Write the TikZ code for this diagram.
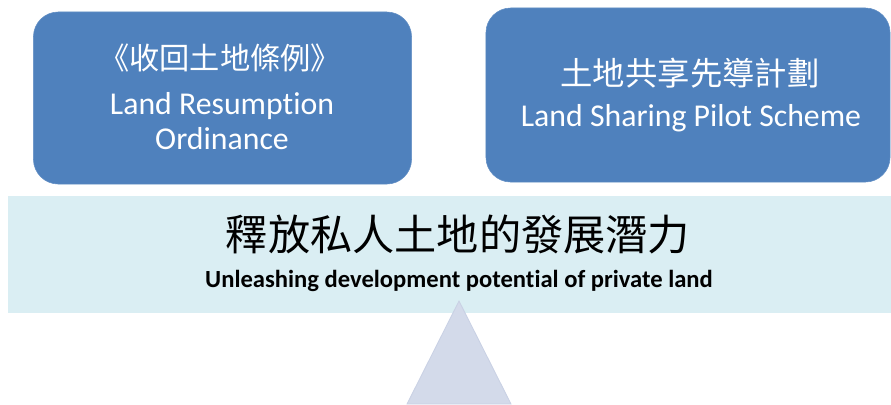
\documentclass[tikz,border=0pt]{standalone}
\usepackage{fontspec}
\setmainfont{Carlito}[Ligatures={NoCommon}]
\newfontfamily\cjk{Noto Sans CJK TC}
\definecolor{boxblue}{RGB}{79,129,189}
\definecolor{barcyan}{RGB}{218,238,243}
\definecolor{pivotgray}{RGB}{211,218,234}
\definecolor{pivotedge}{RGB}{201,209,228}

\begin{document}
\begin{tikzpicture}[
        x=0.025cm, y=-0.025cm,
        policy/.style={rectangle, draw=boxblue!90!white, fill=boxblue, rounded corners=0.62cm, align=center, text=white, inner sep=0pt},
        lever/.style={rectangle, fill=barcyan, inner sep=0pt, align=center},
        label/.style={inner sep=0pt, align=center}
    ]
        \useasboundingbox (0,0) rectangle (891,404);
        % the two schemes on top of the lever
        \node[policy, minimum width=9.45cm, minimum height=4.3cm] (resume) at (222.5,98) {};
        \node[policy, minimum width=10.1cm, minimum height=4.35cm] (sharing) at (688,95) {};
        \node[label, text=white, font=\cjk\fontsize{21.5}{24}\selectfont] (resumezh) at (220,58) {《收回土地條例》};
        \node[label, text=white, font=\fontsize{22.6}{24.5}\selectfont] (resumeen) at (222,121) {Land Resumption\\Ordinance};
        \node[label, text=white, font=\cjk\fontsize{23}{24}\selectfont] (sharingzh) at (690,73) {土地共享先導計劃};
        \node[label, text=white, font=\fontsize{22.6}{24}\selectfont] (sharingen) at (691,118) {Land Sharing Pilot Scheme};
        % lever bar
        \node[lever, minimum width=22.08cm, minimum height=2.93cm] (bar) at (449.5,254.5) {};
        \node[label, font=\cjk\fontsize{30}{32}\selectfont] (goalzh) at (458,234) {釋放私人土地的發展潛力};
        \node[label, font=\bfseries\fontsize{17.5}{19}\selectfont] (goalen) at (459,281) {Unleashing development potential of private land};
        % pivot
        \filldraw[fill=pivotgray, draw=pivotedge, line width=0.6pt] (459,301) -- (511,404) -- (407,404) -- cycle;
    \end{tikzpicture}
\end{document}
